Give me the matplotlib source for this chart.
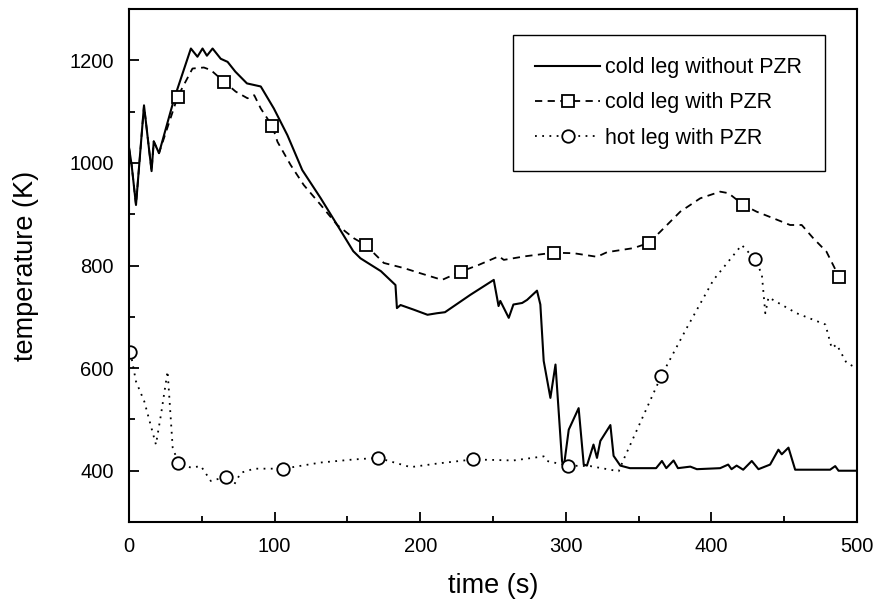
import numpy as np
import matplotlib.pyplot as plt
from matplotlib.ticker import MultipleLocator

plt.rcParams['font.family'] = ['Liberation Sans', 'DejaVu Sans']

# cold leg without PZR
t_cold = [0, 1.8, 4.8, 10.3, 15.5, 17, 20.6, 31, 42.5, 47, 50.5, 53.5, 57.4, 63, 67.7,
          73, 81, 90.5, 99.5, 108.8, 119, 131.7, 143, 154, 159, 173, 183, 184, 186.5,
          195.5, 205, 211.5, 217, 234.5, 250.5, 253.8, 255, 260.8, 264, 270, 273.4,
          280.2, 282.5, 284.8, 289.4, 292.9, 297.4, 298.5, 302, 308.8, 312.3, 314.5,
          319, 321.4, 323.7, 330.6, 332.8, 337.4, 344, 362, 366, 369, 374, 377, 385.5,
          390, 406, 411.5, 413.8, 417.3, 421.8, 427.7, 432.3, 440.3, 446, 448.3, 452.9,
          457.5, 481.5, 485, 487.3, 500]
T_cold = [1030, 996, 918, 1112, 984, 1042, 1019, 1125, 1223, 1207, 1223, 1209, 1223, 1203, 1197,
          1178, 1155, 1149, 1106, 1054, 986, 931, 879, 828, 814, 789, 762, 717, 723,
          714, 704, 707, 709, 743, 772, 721, 731, 698, 724, 727, 733,
          751, 724, 614, 542, 607, 419, 405, 480, 522, 412, 410,
          451, 425, 458, 489, 429, 410, 405, 405, 419, 405, 420, 405, 408,
          403, 405, 412, 403, 410, 402, 419, 403, 412, 441, 432, 445,
          402, 402, 409, 400, 400]

# cold leg with PZR
t_cpzr = [0, 1.8, 4.8, 10.3, 15.5, 17, 20.6, 33.4, 43.6, 51.4, 56.2, 65.4, 73.3, 81.4, 86,
          90.5, 98.4, 102, 111, 120, 131.7, 143, 154.5, 162.5, 175, 188.8, 200, 215,
          227.7, 240, 254, 257.4, 272, 291.7, 305.4, 321.4, 328.3, 337.4, 346.6, 356.9,
          364.9, 378.6, 392.3, 406, 411.7, 422, 431, 442.6, 454, 462, 470, 479, 487.8]
T_cpzr = [1030, 996, 918, 1112, 984, 1042, 1019, 1129, 1184, 1186, 1181, 1158, 1139, 1126, 1132,
          1106, 1072, 1041, 996, 957, 918, 879, 853, 840, 805, 795, 785, 772,
          788, 801, 818, 811, 818, 825, 824, 817, 826, 830, 834, 844,
          866, 905, 931, 944, 941, 918, 905, 892, 879, 879, 853, 827, 777]
mk_cpzr = [33.4, 65.4, 98.4, 162.5, 227.7, 291.7, 356.9, 422, 487.8]

# hot leg with PZR
t_hot = [1, 4.8, 10.5, 18.5, 22, 26.5, 30, 33.8, 42.5, 49.4, 56.2, 66.5, 72.2, 76.8, 86,
         106, 131.7, 154.5, 171, 193.4, 211.7, 236.3, 264, 284.8, 287, 301.3, 316.8,
         336.3, 339.7, 365.6, 383, 401.4, 420.8, 430, 434.6, 437, 439.2, 458.5, 478.3,
         482.6, 486, 492.8, 500]
T_hot = [631, 574, 535, 451, 510, 594, 445, 416, 406, 409, 380, 388, 373, 396, 404,
         404, 416, 422, 425, 407, 414, 422, 420, 428, 419, 410, 409,
         399, 422, 585, 678, 772, 840, 812, 783, 707, 738, 707, 685,
         639, 646, 610, 600]
mk_hot = [1, 33.8, 66.5, 106, 171, 236.3, 301.3, 365.6, 430]

fig = plt.figure(figsize=(8.74, 6.01), dpi=100)
ax = fig.add_axes([0.1476, 0.1314, 0.8330, 0.8536])

ax.plot(t_cold, T_cold, '-', color='black', lw=1.5, label='cold leg without PZR')
idx_c = list(np.where(np.isin(t_cpzr, mk_cpzr))[0])
ax.plot(t_cpzr, T_cpzr, color='black', lw=1.3, ls=(0, (4, 3)), marker='s', ms=9,
        mfc='white', mec='black', mew=1.3, markevery=idx_c, label='cold leg with PZR')
idx_h = list(np.where(np.isin(t_hot, mk_hot))[0])
ax.plot(t_hot, T_hot, color='black', lw=1.3, ls=(0, (1, 3)), marker='o', ms=9,
        mfc='white', mec='black', mew=1.3, markevery=idx_h, label='hot leg with PZR')

ax.set_xlim(0, 500)
ax.set_ylim(300, 1300)
ax.xaxis.set_major_locator(MultipleLocator(100))
ax.xaxis.set_minor_locator(MultipleLocator(50))
ax.yaxis.set_major_locator(MultipleLocator(200))
ax.yaxis.set_minor_locator(MultipleLocator(100))
ax.set_yticks([400, 600, 800, 1000, 1200])
ax.tick_params(which='both', direction='in', top=False, right=False, labelsize=14.5, width=1.3)
ax.tick_params(which='major', length=7, pad=11)
ax.tick_params(which='minor', length=4)
for s in ax.spines.values():
    s.set_linewidth(1.5)

ax.set_xlabel('time (s)', fontsize=19.5, labelpad=12)
ax.set_ylabel('temperature (K)', fontsize=19.5, labelpad=22)

leg = ax.legend(loc='upper right', bbox_to_anchor=(0.956, 0.95), borderaxespad=0,
                fontsize=15.5, handlelength=3.0, labelspacing=0.66, borderpad=1.05,
                handletextpad=0.25, fancybox=False, edgecolor='black', framealpha=1,
                numpoints=1)
leg.get_frame().set_linewidth(1.0)

fig.savefig('out.png', dpi=100)
